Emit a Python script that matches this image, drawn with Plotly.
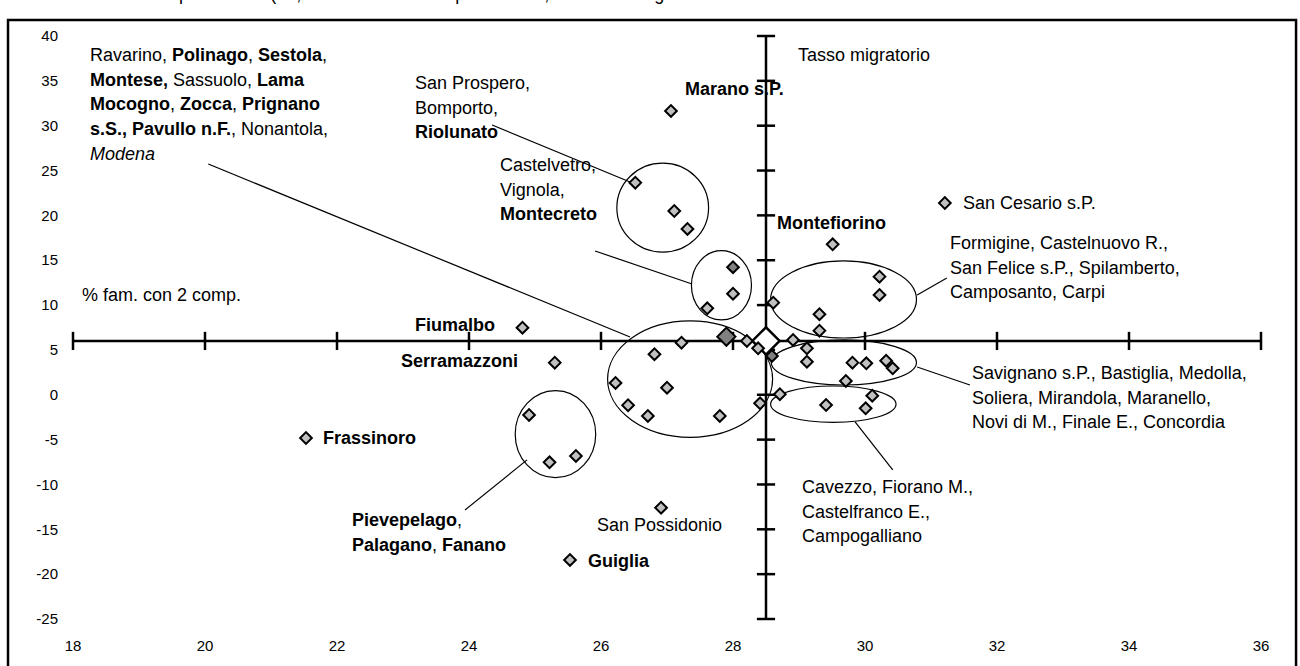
import plotly.graph_objects as go

# ---------------- data ----------------
x_ticks = [18, 20, 22, 24, 26, 28, 30, 32, 34, 36]
y_ticks = [-25, -20, -15, -10, -5, 0, 5, 10, 15, 20, 25, 30, 35, 40]
y_tick_text = ["-25", "-20", "-15", "-10", "-5", "0", "5", "10", "15", "20", "25", "30", "35", "40"]

mean_x = [28.5]
mean_y = [6.0]

# light grey points (% fam. con 2 comp., tasso migratorio)
pts_x = [27.06, 31.21, 29.51, 24.81, 25.30, 21.53, 26.91, 25.53,
         24.91, 25.22, 25.62,
         26.52, 27.11, 27.31,
         28.00, 27.61,
         27.22, 26.81, 26.22, 27.00, 26.41, 26.71, 27.80, 28.41, 28.21, 28.38,
         30.22, 30.22, 29.31, 29.31, 28.61, 28.91, 29.12,
         29.12, 29.81, 30.02, 30.32, 30.42, 29.71, 28.71,
         29.41, 30.11, 30.01]
pts_y = [31.64, 21.38, 16.78, 7.48, 3.58, -4.82, -12.59, -18.42,
         -2.25, -7.53, -6.82,
         23.65, 20.49, 18.49,
         11.27, 9.64,
         5.81, 4.52, 1.32, 0.79, -1.17, -2.36, -2.36, -0.95, 6.00, 5.18,
         13.17, 11.13, 8.98, 7.15, 10.27, 6.11, 5.18,
         3.69, 3.58, 3.51, 3.80, 2.95, 1.54, 0.06,
         -1.14, -0.10, -1.51]

# darker points
dark_x = [28.00, 28.59]
dark_y = [14.22, 4.33]
big_dark_x = [27.90]
big_dark_y = [6.48]

# cluster ellipses: x0, x1, y0, y1
ellipses = [
    (26.24, 27.63, 15.90, 25.82),   # San Prospero ...
    (27.37, 28.28, 8.34, 16.07),    # Castelvetro ...
    (26.10, 28.60, -4.74, 8.23),    # Ravarino ...
    (24.70, 25.92, -9.24, 0.46),    # Pievepelago ...
    (28.57, 30.78, 6.33, 14.92),    # Formigine ...
    (28.58, 30.78, 1.09, 6.11),     # Savignano ...
    (28.57, 30.47, -3.07, 0.98),    # Cavezzo ...
]

# leader lines: x0, y0, x1, y1
leaders = [
    (20.05, 25.73, 26.44, 6.44),
    (24.35, 30.08, 26.44, 23.73),
    (25.91, 16.03, 27.38, 12.35),
    (30.79, 11.13, 31.24, 13.02),
    (30.79, 3.10, 31.59, 1.09),
    (29.85, -3.03, 30.42, -8.38),
    (24.88, -7.26, 23.94, -12.84),
]

# text blocks: x, y of first line, anchor, lines
labels = [
    (18.22, 37.89, "left", ["Ravarino, <b>Polinago</b>, <b>Sestola</b>,",
                            "<b>Montese,</b> Sassuolo, <b>Lama</b>",
                            "<b>Mocogno</b>, <b>Zocca</b>, <b>Prignano</b>",
                            "<b>s.S., Pavullo n.F.</b>, Nonantola,",
                            "<i>Modena</i>"]),
    (23.15, 34.76, "left", ["San Prospero,", "Bomporto,", "<b>Riolunato</b>"]),
    (24.44, 25.62, "left", ["Castelvetro,", "Vignola,", "<b>Montecreto</b>"]),
    (27.24, 34.10, "left", ["<b>Marano s.P.</b>"]),
    (28.955, 37.89, "left", ["Tasso migratorio"]),
    (18.106, 11.13, "left", ["% fam. con 2 comp."]),
    (31.45, 21.38, "left", ["San Cesario s.P."]),
    (28.64, 19.12, "left", ["<b>Montefiorino</b>"]),
    (31.26, 16.92, "left", ["Formigine, Castelnuovo R.,",
                            "San Felice s.P., Spilamberto,",
                            "Camposanto, Carpi"]),
    (24.42, 7.80, "right", ["<b>Fiumalbo</b>"]),
    (24.78, 3.77, "right", ["<b>Serramazzoni</b>"]),
    (21.76, -4.82, "left", ["<b>Frassinoro</b>"]),
    (31.59, 2.43, "left", ["Savignano s.P., Bastiglia, Medolla,",
                           "Soliera, Mirandola, Maranello,",
                           "Novi di M., Finale E., Concordia"]),
    (29.02, -10.28, "left", ["Cavezzo, Fiorano M.,", "Castelfranco E.,", "Campogalliano"]),
    (25.91, -14.51, "left", ["San Possidonio"]),
    (25.78, -18.54, "left", ["<b>Guiglia</b>"]),
    (22.20, -14.00, "left", ["<b>Pievepelago</b>,", "<b>Palagano</b>, <b>Fanano</b>"]),
]

title_text = "Centrato sulla media provinciale (28,5% fam. con 2 componenti e 5,9 \u2030 tasso migratorio"

# ---------------- figure ----------------
FONT = "Liberation Sans, Arial, sans-serif"
LINE_GAP = 2.75

fig = go.Figure()

# axis tick marks (cross ticks)
fig.add_trace(go.Scatter(x=x_ticks, y=[mean_y[0]] * len(x_ticks), mode="markers",
                         marker=dict(symbol="line-ns", size=13, line=dict(width=2.5, color="black")),
                         hoverinfo="skip", cliponaxis=False))
fig.add_trace(go.Scatter(x=[mean_x[0]] * len(y_ticks), y=y_ticks, mode="markers",
                         marker=dict(symbol="line-ew", size=13, line=dict(width=2.5, color="black")),
                         hoverinfo="skip", cliponaxis=False))

# mean point
fig.add_trace(go.Scatter(x=mean_x, y=mean_y, mode="markers",
                         marker=dict(symbol="diamond", size=21, color="white",
                                     line=dict(width=2.5, color="black")),
                         hoverinfo="skip"))
fig.add_trace(go.Scatter(x=pts_x, y=pts_y, mode="markers",
                         marker=dict(symbol="diamond", size=9, color="#c0c0c0",
                                     line=dict(width=2, color="black")),
                         hoverinfo="skip", cliponaxis=False))
fig.add_trace(go.Scatter(x=big_dark_x, y=big_dark_y, mode="markers",
                         marker=dict(symbol="diamond", size=14, color="#808080",
                                     line=dict(width=2, color="black")),
                         hoverinfo="skip"))
fig.add_trace(go.Scatter(x=dark_x, y=dark_y, mode="markers",
                         marker=dict(symbol="diamond", size=9, color="#808080",
                                     line=dict(width=2, color="black")),
                         hoverinfo="skip"))

shapes = []
# crossing axes
shapes.append(dict(type="line", xref="x", yref="y", x0=x_ticks[0], x1=x_ticks[-1],
                   y0=mean_y[0], y1=mean_y[0], line=dict(color="black", width=2.5), layer="below"))
shapes.append(dict(type="line", xref="x", yref="y", x0=mean_x[0], x1=mean_x[0],
                   y0=y_ticks[0], y1=y_ticks[-1], line=dict(color="black", width=2.5), layer="below"))
for (x0, x1, y0, y1) in ellipses:
    shapes.append(dict(type="circle", xref="x", yref="y", x0=x0, x1=x1, y0=y0, y1=y1,
                       line=dict(color="black", width=1.2), layer="below"))
for (x0, y0, x1, y1) in leaders:
    shapes.append(dict(type="line", xref="x", yref="y", x0=x0, y0=y0, x1=x1, y1=y1,
                       line=dict(color="black", width=1.2), layer="below"))
# outer frame
shapes.append(dict(type="rect", xref="paper", yref="paper", x0=-0.0547, x1=1.0295,
                   y0=-0.09, y1=1.0274, line=dict(color="black", width=2.5)))

annotations = []
for (x, y, anchor, lines) in labels:
    for i, ln in enumerate(lines):
        annotations.append(dict(x=x, y=y - i * LINE_GAP, xref="x", yref="y", text=ln,
                                xanchor=anchor, yanchor="middle", showarrow=False,
                                font=dict(family=FONT, size=18, color="black")))
annotations.append(dict(x=-0.0555, y=1.0721, xref="paper", yref="paper", text=title_text,
                        xanchor="left", yanchor="middle", showarrow=False,
                        font=dict(family=FONT, size=18, color="black")))

fig.update_layout(
    width=1300, height=666,
    margin=dict(l=73, r=39, t=36, b=47),
    paper_bgcolor="white", plot_bgcolor="white",
    showlegend=False,
    shapes=shapes, annotations=annotations,
    font=dict(family=FONT, size=15, color="black"),
    xaxis=dict(range=[x_ticks[0], x_ticks[-1]], tickvals=x_ticks, showgrid=False,
               zeroline=False, showline=False, ticks="", ticklabelstandoff=16,
               tickfont=dict(family=FONT, size=15, color="black")),
    yaxis=dict(range=[y_ticks[0], y_ticks[-1]], tickvals=y_ticks, ticktext=y_tick_text,
               showgrid=False, zeroline=False, showline=False, ticks="", ticklabelstandoff=14,
               tickfont=dict(family=FONT, size=15, color="black")),
)

fig.write_html("out.html", config={"displayModeBar": False},
               post_script="document.body.style.margin='0px';document.body.style.overflow='hidden';")
